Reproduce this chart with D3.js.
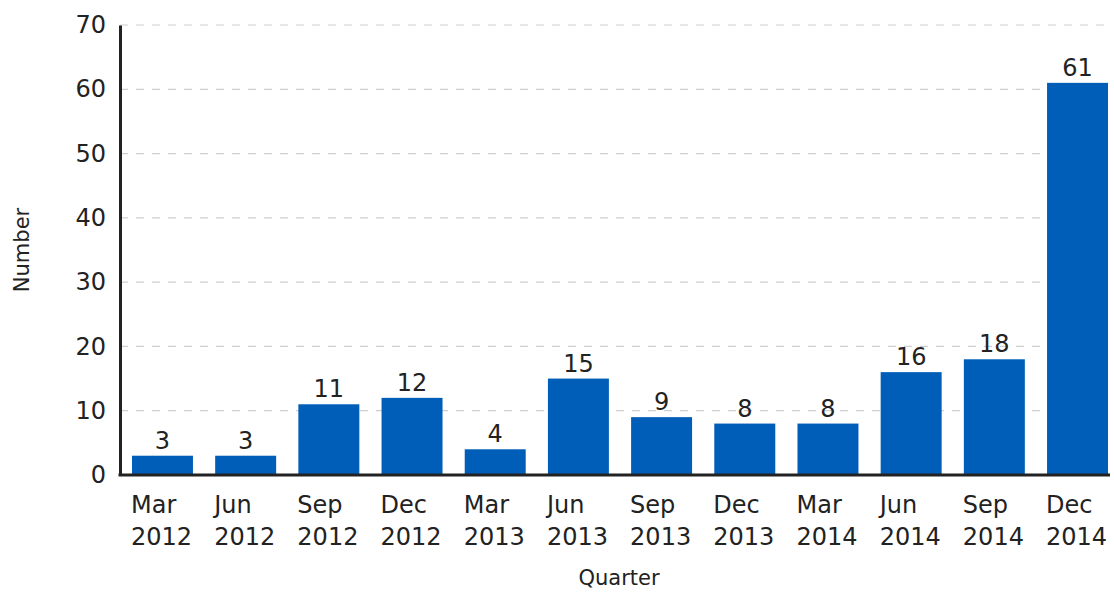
<!DOCTYPE html>
<html>
<head>
<meta charset="utf-8">
<script src="https://cdn.jsdelivr.net/npm/d3@7"></script>
<style>
  body { margin: 0; background: #fff; }
  text { font-family: "DejaVu Sans", sans-serif; fill: #222; }
</style>
</head>
<body>
<script>
const width = 1114, height = 594;

const quarters = ["Mar", "Jun", "Sep", "Dec", "Mar", "Jun", "Sep", "Dec", "Mar", "Jun", "Sep", "Dec"];
const years = ["2012", "2012", "2012", "2012", "2013", "2013", "2013", "2013", "2014", "2014", "2014", "2014"];
const values = [3, 3, 11, 12, 4, 15, 9, 8, 8, 16, 18, 61];
const yTicks = [0, 10, 20, 30, 40, 50, 60, 70];

const margin = {top: 25, right: -6, bottom: 119, left: 120};

const data = values.map((v, i) => ({key: i, q: quarters[i], y: years[i], v}));

const x = d3.scaleBand()
    .domain(data.map(d => d.key))
    .range([margin.left, width - margin.right])
    .paddingInner(0.267)
    .paddingOuter(0.144);

const y = d3.scaleLinear()
    .domain([0, 70])
    .range([height - margin.bottom, margin.top]);

const svg = d3.select("body").append("svg")
    .attr("width", width)
    .attr("height", height);

// grid
svg.append("g")
  .selectAll("line")
  .data(yTicks.filter(t => t > 0))
  .join("line")
    .attr("x1", margin.left)
    .attr("x2", width - 4)
    .attr("y1", d => y(d))
    .attr("y2", d => y(d))
    .attr("stroke", "#cfcfcf")
    .attr("stroke-width", 1.2)
    .attr("stroke-dasharray", "8,8");

// bars
svg.append("g")
  .selectAll("rect")
  .data(data)
  .join("rect")
    .attr("x", d => x(d.key))
    .attr("width", x.bandwidth())
    .attr("y", d => y(d.v))
    .attr("height", d => y(0) - y(d.v))
    .attr("fill", "#005eb8");

// value labels
svg.append("g")
  .selectAll("text")
  .data(data)
  .join("text")
    .attr("x", d => x(d.key) + x.bandwidth() / 2)
    .attr("y", d => y(d.v) - 7)
    .attr("text-anchor", "middle")
    .attr("font-size", 24)
    .text(d => d.v);

// y axis
const yAxis = svg.append("g")
    .attr("transform", `translate(${margin.left},0)`)
    .call(d3.axisLeft(y).tickValues(yTicks).tickSize(0).tickPadding(14));
yAxis.select(".domain").attr("stroke", "#222").attr("stroke-width", 3);
yAxis.selectAll("text").attr("font-size", 24).attr("fill", "#222").style("font-family", "DejaVu Sans, sans-serif");

// x axis baseline
svg.append("line")
    .attr("x1", margin.left - 1.5)
    .attr("x2", width - 4)
    .attr("y1", y(0))
    .attr("y2", y(0))
    .attr("stroke", "#222")
    .attr("stroke-width", 3);

// category labels
const cat = svg.append("g")
  .selectAll("text")
  .data(data)
  .join("text")
    .attr("font-size", 24);
cat.append("tspan").attr("x", d => x(d.key) - 1).attr("y", 513).text(d => d.q);
cat.append("tspan").attr("x", d => x(d.key) - 1).attr("y", 545).text(d => d.y);

// axis titles
svg.append("text")
    .attr("x", 619)
    .attr("y", 585)
    .attr("text-anchor", "middle")
    .attr("font-size", 21)
    .text("Quarter");

svg.append("text")
    .attr("transform", `translate(29,250) rotate(-90)`)
    .attr("text-anchor", "middle")
    .attr("font-size", 21)
    .text("Number");
</script>
</body>
</html>
